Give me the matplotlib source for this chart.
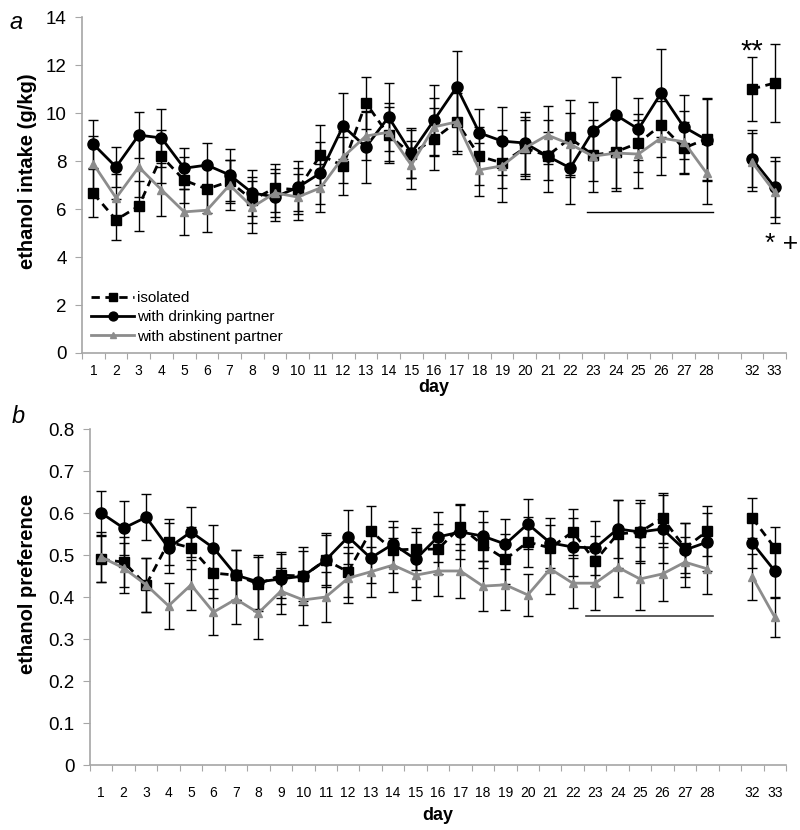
import numpy as np
import matplotlib
matplotlib.use("Agg")
import matplotlib.pyplot as plt

plt.rcParams['font.family'] = ['Liberation Sans', 'DejaVu Sans']

## categories on the x axis (one blank slot between 28 and 32)
day_labels = [str(d) for d in range(1, 29)] + ["", "32", "33"]
days = list(range(1, 29)) + [32, 33]

## panel a: ethanol intake (g/kg)
iso_intake = [6.65, 5.55, 6.12, 8.2, 7.2, 6.83, 7.15, 6.38, 6.88, 6.8,
              8.25, 7.8, 10.42, 9.08, 8.3, 8.92, 9.63, 8.2, 7.92, 8.54,
              8.22, 8.95, 8.25, 8.38, 8.75, 9.5, 8.54, 8.92, 11.0, 11.25]
iso_intake_err = [1.0, 0.85, 1.05, 1.1, 0.95, 1.0, 0.9, 0.95, 1.0, 0.9,
                  1.25, 1.2, 1.1, 1.15, 1.0, 1.3, 1.2, 1.2, 1.05, 1.15,
                  1.0, 1.6, 1.1, 1.5, 1.2, 1.35, 1.1, 1.7, 1.35, 1.62]
drink_intake = [8.7, 7.75, 9.08, 8.96, 7.7, 7.83, 7.42, 6.67, 6.5, 6.9,
                7.5, 9.46, 8.58, 9.83, 8.33, 9.7, 11.08, 9.17, 8.83, 8.75,
                8.2, 7.71, 9.25, 9.92, 9.33, 10.83, 9.42, 8.88, 8.1, 6.92]
drink_intake_err = [1.0, 0.85, 0.96, 1.2, 0.85, 0.92, 1.1, 0.95, 1.0, 1.1,
                    1.3, 1.37, 1.5, 1.42, 1.05, 1.47, 1.5, 1.0, 1.4, 1.3,
                    1.5, 1.5, 1.2, 1.6, 1.3, 1.83, 1.35, 1.7, 1.2, 1.25]
abst_intake = [7.88, 6.46, 7.75, 6.8, 5.88, 5.95, 7.0, 6.08, 6.67, 6.5,
               6.88, 8.17, 9.04, 9.2, 7.83, 9.42, 9.63, 7.63, 7.8, 8.54,
               9.08, 8.7, 8.2, 8.33, 8.29, 8.96, 8.8, 7.5, 7.96, 6.71]
abst_intake_err = [1.15, 1.0, 1.25, 1.1, 0.95, 0.9, 1.05, 1.1, 1.0, 0.95,
                   1.0, 1.1, 1.0, 1.2, 1.0, 1.2, 1.35, 1.1, 1.5, 1.3,
                   1.2, 1.3, 1.5, 1.6, 1.4, 1.55, 1.3, 1.3, 1.2, 1.3]

## panel b: ethanol preference
iso_pref = [0.49, 0.483, 0.429, 0.531, 0.517, 0.457, 0.452, 0.431, 0.452, 0.45,
            0.488, 0.46, 0.557, 0.512, 0.514, 0.514, 0.567, 0.524, 0.49, 0.531,
            0.517, 0.555, 0.486, 0.55, 0.555, 0.588, 0.517, 0.557, 0.588, 0.517]
iso_pref_err = [0.055, 0.06, 0.065, 0.055, 0.05, 0.06, 0.06, 0.065, 0.055, 0.06,
                0.06, 0.06, 0.06, 0.055, 0.05, 0.06, 0.055, 0.055, 0.06, 0.06,
                0.055, 0.055, 0.06, 0.08, 0.07, 0.06, 0.06, 0.06, 0.048, 0.05]
drink_pref = [0.6, 0.564, 0.59, 0.517, 0.555, 0.517, 0.452, 0.436, 0.443, 0.45,
              0.488, 0.543, 0.493, 0.526, 0.49, 0.543, 0.555, 0.545, 0.526, 0.574,
              0.529, 0.519, 0.517, 0.562, 0.555, 0.562, 0.512, 0.531, 0.529, 0.462]
drink_pref_err = [0.052, 0.065, 0.055, 0.06, 0.06, 0.055, 0.06, 0.065, 0.06, 0.07,
                  0.065, 0.065, 0.06, 0.055, 0.065, 0.06, 0.065, 0.06, 0.06, 0.06,
                  0.06, 0.07, 0.065, 0.07, 0.075, 0.08, 0.065, 0.07, 0.06, 0.065]
abst_pref = [0.495, 0.469, 0.429, 0.379, 0.429, 0.364, 0.395, 0.362, 0.414, 0.393,
             0.4, 0.445, 0.46, 0.476, 0.452, 0.462, 0.462, 0.426, 0.429, 0.405,
             0.467, 0.433, 0.433, 0.471, 0.443, 0.455, 0.483, 0.467, 0.448, 0.352]
abst_pref_err = [0.06, 0.06, 0.065, 0.055, 0.06, 0.055, 0.06, 0.062, 0.055, 0.06,
                 0.06, 0.06, 0.06, 0.065, 0.06, 0.06, 0.065, 0.06, 0.06, 0.05,
                 0.06, 0.06, 0.065, 0.07, 0.075, 0.065, 0.06, 0.06, 0.055, 0.048]

# map days to category slots
pos = np.array([day_labels.index(str(d)) for d in days])
first = pos <= 27  # days 1-28
last = ~first      # days 32-33

gray = "#8c8c8c"
axis_gray = "#a6a6a6"
styles = [
    dict(color="black", ls=(0, (3, 2)), marker="s", ms=7, label="isolated"),
    dict(color="black", ls="-", marker="o", ms=8, label="with drinking partner"),
    dict(color=gray, ls="-", marker="^", ms=6, label="with abstinent partner"),
]


def draw(ax, series, xpad):
    handles = []
    for (vals, errs), st in zip(series, styles):
        vals = np.array(vals)
        errs = np.array(errs)
        for part in (first, last):
            ax.errorbar(pos[part], vals[part], yerr=errs[part], fmt="none",
                        ecolor="black", elinewidth=1, capsize=3.5, capthick=1,
                        zorder=2)
        for part in (first, last):
            h, = ax.plot(pos[part], vals[part], color=st["color"], ls=st["ls"],
                         lw=2, marker=st["marker"], ms=st["ms"],
                         mfc=st["color"], mec=st["color"], zorder=3,
                         label=st["label"])
        handles.append(h)
    ax.set_xlim(-0.5, len(day_labels) - 0.5)
    ax.set_xticks(np.arange(-0.5, len(day_labels)))
    ax.set_xticklabels([])
    ax.set_xticks(np.arange(len(day_labels)), minor=True)
    ax.set_xticklabels(day_labels, minor=True, fontsize=10)
    ax.tick_params(axis="x", which="minor", length=0, pad=xpad)
    ax.tick_params(axis="x", which="major", length=4, color=axis_gray)
    ax.tick_params(axis="y", length=5, color=axis_gray, labelsize=13.5, pad=6)
    for s in ("top", "right"):
        ax.spines[s].set_visible(False)
    for s in ("left", "bottom"):
        ax.spines[s].set_color(axis_gray)
        ax.spines[s].set_linewidth(1.2)
    return handles


fig = plt.figure(figsize=(8, 8.3), dpi=100)
ax1 = fig.add_axes([0.1025, 0.5747, 0.88, 0.4048])
ax2 = fig.add_axes([0.1125, 0.0783, 0.87, 0.4048])

h = draw(ax1, [(iso_intake, iso_intake_err), (drink_intake, drink_intake_err),
               (abst_intake, abst_intake_err)], 8)
ax1.set_ylim(0, 14)
ax1.set_yticks(range(0, 15, 2))
ax1.set_xlabel("day", fontsize=13, fontweight="bold", labelpad=1)
ax1.set_ylabel("ethanol intake (g/kg)", fontsize=14.5, fontweight="bold")
ax1.yaxis.set_label_coords(-0.064, 0.54)
ax1.plot([21.75, 27.3], [5.875, 5.875], color="black", lw=1)
ax1.text(29.0, 12.55, "**", fontsize=21, ha="center", va="center")
ax1.text(30.3, 4.55, "* +", fontsize=19, ha="center", va="center")
ax1.legend(handles=h, loc="lower left", bbox_to_anchor=(0.0, 0.0),
           frameon=False, fontsize=11, handlelength=2.8, handletextpad=0.2,
           labelspacing=0.35, borderaxespad=0.2, markerscale=0.8)

draw(ax2, [(iso_pref, iso_pref_err), (drink_pref, drink_pref_err),
           (abst_pref, abst_pref_err)], 15)
ax2.set_ylim(0, 0.8)
ax2.set_yticks(np.arange(0, 0.81, 0.1))
ax2.set_yticklabels(["0"] + ["%.1f" % v for v in np.arange(0.1, 0.81, 0.1)])
ax2.set_xlabel("day", fontsize=13, fontweight="bold", labelpad=5)
ax2.set_ylabel("ethanol preference", fontsize=14.5, fontweight="bold")
ax2.yaxis.set_label_coords(-0.076, 0.54)
ax2.plot([21.6, 27.25], [0.355, 0.355], color="#404040", lw=1.2)

fig.text(0.012, 0.965, "a", fontsize=17, style="italic")
fig.text(0.015, 0.49, "b", fontsize=17, style="italic")

fig.savefig("out.png", dpi=100)
